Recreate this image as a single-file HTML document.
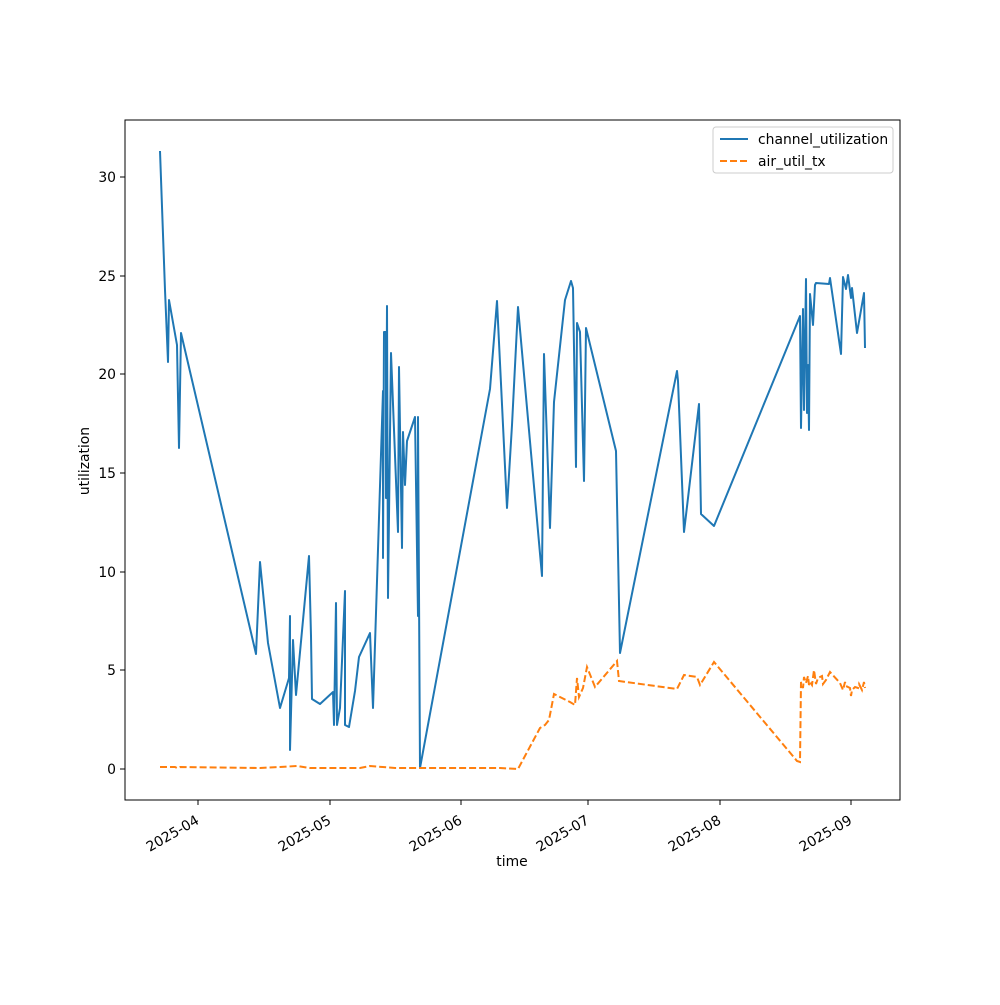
<!DOCTYPE html>
<html><head><meta charset="utf-8"><style>body{margin:0;background:#fff}</style></head><body>
<svg width="1000" height="1000" xmlns="http://www.w3.org/2000/svg" font-family="DejaVu Sans, Liberation Sans, sans-serif" font-size="13.9">
<rect width="1000" height="1000" fill="#fff"/>
<g stroke="#000" stroke-width="1">
<line x1="125" y1="769" x2="120" y2="769"/><line x1="125" y1="670" x2="120" y2="670"/><line x1="125" y1="572" x2="120" y2="572"/><line x1="125" y1="473" x2="120" y2="473"/><line x1="125" y1="374" x2="120" y2="374"/><line x1="125" y1="276" x2="120" y2="276"/><line x1="125" y1="177" x2="120" y2="177"/>
<line x1="198" y1="800" x2="198" y2="805"/><line x1="330" y1="800" x2="330" y2="805"/><line x1="461" y1="800" x2="461" y2="805"/><line x1="588" y1="800" x2="588" y2="805"/><line x1="720" y1="800" x2="720" y2="805"/><line x1="851" y1="800" x2="851" y2="805"/>
</g>
<g text-anchor="end">
<text x="116" y="774">0</text><text x="116" y="675">5</text><text x="116" y="577">10</text><text x="116" y="478">15</text><text x="116" y="379">20</text><text x="116" y="281">25</text><text x="116" y="182">30</text>
</g>
<g text-anchor="end">
<text transform="translate(200,823) rotate(-30)">2025-04</text>
<text transform="translate(332,823) rotate(-30)">2025-05</text>
<text transform="translate(463,823) rotate(-30)">2025-06</text>
<text transform="translate(590,823) rotate(-30)">2025-07</text>
<text transform="translate(722,823) rotate(-30)">2025-08</text>
<text transform="translate(853,823) rotate(-30)">2025-09</text>
</g>
<text x="512" y="866" text-anchor="middle">time</text>
<text transform="translate(89,461) rotate(-90)" text-anchor="middle">utilization</text>
<polyline fill="none" stroke="#1f77b4" stroke-width="2" stroke-linejoin="round" points="160,151 165,290 168,362 169,300 177,345 179,448 181,333 256,654 260,562 268,643 280,708 289,678 290,616 290,750 293,640 296,695 309,556 311,636 312,699 320,704 333,692 334,725 336,603 337,725 340,708 345,591 345,725 349,727 355,691 359,657 370,633 373,708 383,391 383,558 384,332 386,332 386,498 387,306 388,598 391,353 398,532 399,367 402,548 403,432 405,485 407,441 415,417 418,616 418,417 420,768 490,389 497,301 507,508 512,425 518,307 542,576 544,354 550,528 554,402 565,300 571,281 573,288 576,467 577,323 580,332 584,481 586,328 616,451 620,653 677,371 678,381 684,532 688,498 699,404 701,514 714,526 800,316 801,428 803,309 804,410 806,279 807,413 808,365 809,430 810,294 813,325 815,285 816,283 829,284 830,278 841,354 843,277 846,289 848,275 851,298 852,288 853,297 857,333 864,293 865,348"/>
<polyline fill="none" stroke="#ff7f0e" stroke-width="2" stroke-dasharray="7,3" points="160,767 175,767 177,768 180,767 260,768 280,767 297,766 310,768 350,768 360,768 370,766 395,768 420,768 500,768 518,769 540,728 545,725 549,720 554,694 570,702 575,705 577,678 579,697 583,688 587,667 595,687 617,661 619,681 677,689 684,675 697,677 700,685 714,662 797,761 800,762 801,682 803,688 804,677 806,683 808,676 809,685 810,682 812,685 814,670 816,684 818,678 820,677 822,676 823,684 826,680 830,672 840,683 843,690 845,682 846,686 850,688 851,696 852,690 855,687 858,688 859,684 862,690 864,682 865,688"/>
<rect x="125" y="120" width="775" height="680" fill="none" stroke="#000" stroke-width="1"/>
<rect x="713" y="127" width="180" height="46" rx="3" fill="#fff" fill-opacity="0.8" stroke="#ccc"/>
<line x1="720" y1="139" x2="748" y2="139" stroke="#1f77b4" stroke-width="2"/>
<line x1="720" y1="161" x2="748" y2="161" stroke="#ff7f0e" stroke-width="2" stroke-dasharray="7,3"/>
<text x="758" y="144">channel_utilization</text>
<text x="758" y="166">air_util_tx</text>
</svg>
</body></html>
